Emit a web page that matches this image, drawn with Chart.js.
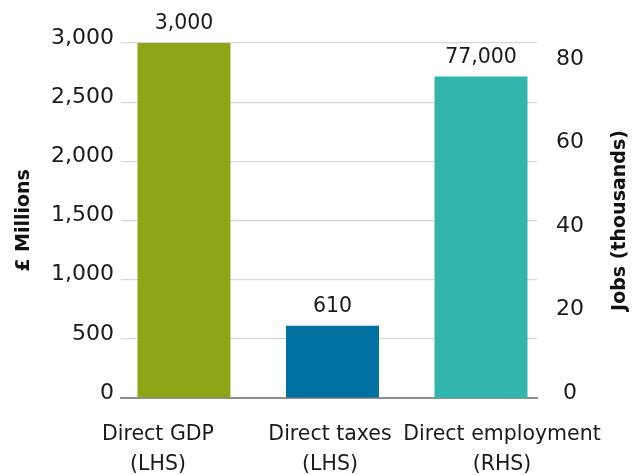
<!DOCTYPE html>
<html lang="en">
<head>
<meta charset="UTF-8">
<title>Direct impact</title>
<script src="https://cdn.jsdelivr.net/npm/chart.js@4.4.0/dist/chart.umd.min.js"></script>
<style>
    body { margin: 0; background: #fff; }
    #chartDiv { width: 638px; height: 475px; }
</style>
</head>
<body>
<div id="chartDiv"><canvas id="myChart"></canvas></div>

<script type="text/javascript">
// categories along the bottom, two lines each
var categories = [['Direct GDP', '(LHS)'], ['Direct taxes', '(LHS)'], ['Direct employment', '(RHS)']];
// £ millions, left axis
var gdpTaxes = [3000, 610];
// jobs, right axis (labelled in thousands)
var employment = [77000];
var barColours = ['#8da517', '#0071a1', '#31b5ad'];
var leftTicks = [0, 500, 1000, 1500, 2000, 2500, 3000];
var rightTicks = [0, 20000, 40000, 60000, 80000];

var fontFamily = "'DejaVu Sans', sans-serif";
var textColour = '#1a1a1a';

// number above each bar
var valueLabels = {
    id: 'valueLabels',
    afterDatasetsDraw: function(chart) {
        var ctx = chart.ctx;
        ctx.save();
        ctx.font = '20.5px ' + fontFamily;
        ctx.fillStyle = textColour;
        ctx.textAlign = 'center';
        ctx.textBaseline = 'middle';
        chart.data.datasets.forEach(function(ds, d) {
            chart.getDatasetMeta(d).data.forEach(function(bar, i) {
                ctx.fillText(ds.data[i].y.toLocaleString('en-GB'), bar.x, bar.y - 19);
            });
        });
        ctx.restore();
    }
};

// right axis title, reading upwards like the left one
var rightTitle = {
    id: 'rightTitle',
    afterDraw: function(chart) {
        var s = chart.scales.y1, ctx = chart.ctx;
        ctx.save();
        ctx.translate(s.right - 18, (s.top + s.bottom) / 2);
        ctx.rotate(-Math.PI / 2);
        ctx.font = 'bold 19px ' + fontFamily;
        ctx.fillStyle = '#111';
        ctx.textAlign = 'center';
        ctx.textBaseline = 'middle';
        ctx.fillText('Jobs (thousands)', 0, 0);
        ctx.restore();
    }
};

Chart.defaults.font.family = fontFamily;
Chart.defaults.color = textColour;

var data = {
    datasets: [{
        label: '£ Millions',
        xAxisID: 'x',
        yAxisID: 'y',
        data: gdpTaxes.map(function(v, i) { return {x: i, y: v}; }),
        backgroundColor: barColours.slice(0, gdpTaxes.length)
    }, {
        label: 'Jobs',
        xAxisID: 'x',
        yAxisID: 'y1',
        data: employment.map(function(v, i) { return {x: gdpTaxes.length + i, y: v}; }),
        backgroundColor: barColours.slice(gdpTaxes.length)
    }]
};

var categoryTicks = function(s) {
    s.ticks = categories.map(function(c, i) { return {value: i}; });
};

var config = {
    type: 'bar',
    data: data,
    plugins: [valueLabels, rightTitle],
    options: {
        responsive: true,
        maintainAspectRatio: false,
        animation: false,
        grouped: false,
        barPercentage: 0.626,
        categoryPercentage: 1,
        layout: { padding: { top: 43, left: 0, right: 0, bottom: 0 } },
        plugins: { legend: { display: false }, tooltip: { enabled: false } },
        scales: {
            // bar positions and the baseline
            x: {
                type: 'linear',
                offset: false,
                weight: 0,
                min: -0.424,
                max: 2.377,
                afterBuildTicks: categoryTicks,
                afterFit: function(s) { s.height = 0; },
                grid: { display: false },
                border: { display: true, color: '#8f8f8f', width: 2 },
                ticks: { display: false }
            },
            // category names, spread a little wider than the bars
            xl: {
                type: 'linear',
                position: 'bottom',
                offset: false,
                weight: 1,
                min: -0.2151,
                max: 2.2035,
                afterBuildTicks: categoryTicks,
                afterFit: function(s) { s.height = 77; },
                grid: { display: false },
                border: { display: false },
                ticks: {
                    maxRotation: 0,
                    autoSkip: false,
                    padding: 14,
                    font: { size: 20.5, lineHeight: 1.46 },
                    callback: function(v) { return categories[v]; }
                }
            },
            y: {
                position: 'left',
                min: 0,
                max: 3000,
                afterBuildTicks: function(s) {
                    s.ticks = leftTicks.map(function(v) { return {value: v}; });
                },
                afterFit: function(s) { s.width = 121; },
                grid: { color: '#d6d6d6', lineWidth: 1.2, drawTicks: false },
                border: { display: false },
                ticks: {
                    padding: 7,
                    labelOffset: -5,
                    font: { size: 22 },
                    callback: function(v) { return v.toLocaleString('en-GB'); }
                },
                title: {
                    display: true,
                    text: '£ Millions',
                    color: '#111',
                    font: { size: 19, weight: 'bold' },
                    padding: { top: 13, bottom: 0 }
                }
            },
            y1: {
                position: 'right',
                min: 0,
                max: 85000,
                afterBuildTicks: function(s) {
                    s.ticks = rightTicks.map(function(v) { return {value: v}; });
                },
                afterFit: function(s) { s.width = 101; },
                grid: { display: false, drawOnChartArea: false },
                border: { display: false },
                ticks: {
                    padding: 11,
                    crossAlign: 'center',
                    labelOffset: -5,
                    font: { size: 22 },
                    callback: function(v) { return v / 1000; }
                }
            }
        }
    }
};

var myChart = new Chart(document.getElementById('myChart'), config);
</script>
</body>
</html>
